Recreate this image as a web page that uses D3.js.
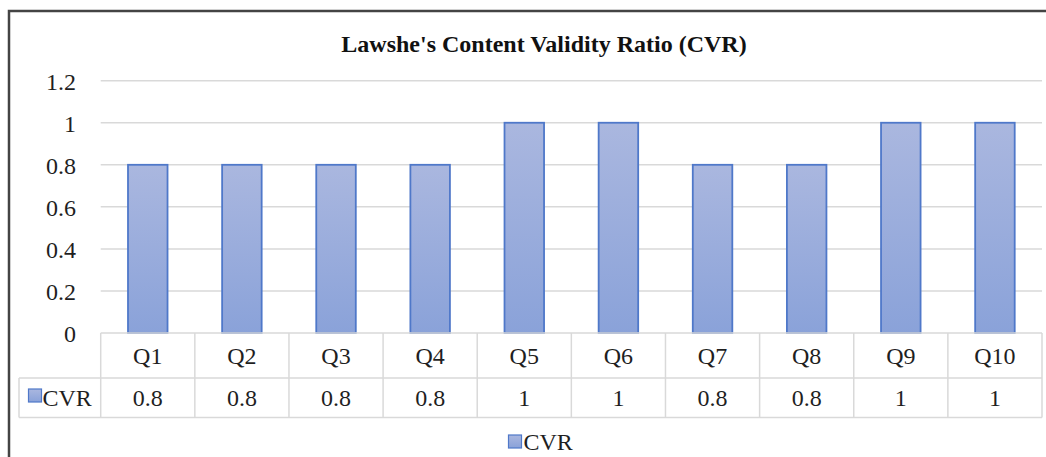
<!DOCTYPE html>
<html>
<head>
<meta charset="utf-8">
<script src="https://cdn.jsdelivr.net/npm/d3@7"></script>
<style>
  body { margin: 0; background: #fff; }
  svg { display: block; }
  text { font-family: "Liberation Serif", "Times New Roman", serif; }
</style>
</head>
<body>
<div id="chart"></div>
<script>
var categories = ["Q1", "Q2", "Q3", "Q4", "Q5", "Q6", "Q7", "Q8", "Q9", "Q10"];
var cvrValues = [0.8, 0.8, 0.8, 0.8, 1, 1, 0.8, 0.8, 1, 1];
var cvrLabels = ["0.8", "0.8", "0.8", "0.8", "1", "1", "0.8", "0.8", "1", "1"];
var yTicks = [0, 0.2, 0.4, 0.6, 0.8, 1, 1.2];
var seriesName = "CVR";
var chartTitle = "Lawshe's Content Validity Ratio (CVR)";

var width = 1046, height = 457;
var plot = {left: 100.7, right: 1042, top: 80.7, bottom: 333};
var rowH1 = 45, rowH2 = 39.5;
var keyLeft = 19;
var gridColor = "#d9d9d9";
var textColor = "#1f1f1f";
var labelSize = "24px";

var svg = d3.select("#chart")
    .append("svg")
    .attr("width", width)
    .attr("height", height);

// gradient for the bars
var defs = svg.append("defs");
var grad = defs.append("linearGradient")
    .attr("id", "barGrad")
    .attr("x1", 0).attr("y1", 0).attr("x2", 0).attr("y2", 1);
grad.append("stop").attr("offset", "0%").attr("stop-color", "#aab7df");
grad.append("stop").attr("offset", "100%").attr("stop-color", "#8aa2d9");

// outer frame (cut off at right and bottom)
svg.append("rect")
    .attr("x", 9)
    .attr("y", 11)
    .attr("width", width + 20)
    .attr("height", height + 20)
    .attr("fill", "none")
    .attr("stroke", "#444")
    .attr("stroke-width", 2.5);

// title
svg.append("text")
    .attr("x", 544)
    .attr("y", 52)
    .attr("text-anchor", "middle")
    .attr("font-size", "24px")
    .attr("font-weight", "bold")
    .attr("fill", "#111")
    .text(chartTitle);

// scales
var x = d3.scaleBand()
    .domain(categories)
    .range([plot.left, plot.right])
    .paddingInner(0.58)
    .paddingOuter(0.29);

var col = d3.scaleBand()
    .domain(categories)
    .range([plot.left, plot.right])
    .padding(0);

var y = d3.scaleLinear()
    .domain([0, 1.2])
    .range([plot.bottom, plot.top]);

// gridlines
svg.append("g")
    .selectAll("line")
    .data(yTicks.filter(d => d > 0))
    .enter()
    .append("line")
    .attr("x1", plot.left)
    .attr("x2", plot.right)
    .attr("y1", d => y(d))
    .attr("y2", d => y(d))
    .attr("stroke", gridColor)
    .attr("stroke-width", 1.5);

// y axis labels
var yAxis = d3.axisLeft(y)
    .tickValues(yTicks)
    .tickFormat(d => String(+d.toFixed(1)))
    .tickSize(0)
    .tickPadding(0);

var yg = svg.append("g")
    .attr("transform", "translate(76,0)")
    .call(yAxis);
yg.select(".domain").remove();
yg.selectAll("text")
    .attr("font-size", labelSize)
    .attr("font-family", "Liberation Serif, Times New Roman, serif")
    .attr("fill", textColor)
    .attr("dy", "0.35em");

// bars
svg.append("g")
    .selectAll("rect")
    .data(cvrValues)
    .enter()
    .append("rect")
    .attr("x", (d, i) => x(categories[i]))
    .attr("y", d => y(d))
    .attr("width", x.bandwidth())
    .attr("height", d => y(0) - y(d))
    .attr("fill", "url(#barGrad)")
    .attr("stroke", "#4f78c9")
    .attr("stroke-width", 1.8);

// data table
var table = svg.append("g")
    .attr("stroke", gridColor)
    .attr("stroke-width", 1.5);

var rowTop = plot.bottom;
var rowMid = rowTop + rowH1;
var rowBot = rowMid + rowH2;

table.append("line")
    .attr("x1", plot.left).attr("x2", plot.right)
    .attr("y1", rowTop).attr("y2", rowTop);
table.append("line")
    .attr("x1", keyLeft).attr("x2", plot.right)
    .attr("y1", rowMid).attr("y2", rowMid);
table.append("line")
    .attr("x1", keyLeft).attr("x2", plot.right)
    .attr("y1", rowBot).attr("y2", rowBot);
table.append("line")
    .attr("x1", keyLeft).attr("x2", keyLeft)
    .attr("y1", rowMid).attr("y2", rowBot);

table.selectAll(".vline")
    .data(categories)
    .enter()
    .append("line")
    .attr("class", "vline")
    .attr("x1", d => col(d))
    .attr("x2", d => col(d))
    .attr("y1", rowTop)
    .attr("y2", rowBot);
table.append("line")
    .attr("x1", plot.right).attr("x2", plot.right)
    .attr("y1", rowTop).attr("y2", rowBot);

// category labels row
svg.append("g")
    .selectAll("text")
    .data(categories)
    .enter()
    .append("text")
    .attr("x", d => col(d) + col.bandwidth() / 2)
    .attr("y", rowTop + rowH1 / 2)
    .attr("dy", "0.35em")
    .attr("text-anchor", "middle")
    .attr("font-size", labelSize)
    .attr("fill", textColor)
    .text(d => d);

// value row
svg.append("g")
    .selectAll("text")
    .data(cvrLabels)
    .enter()
    .append("text")
    .attr("x", (d, i) => col(categories[i]) + col.bandwidth() / 2)
    .attr("y", rowMid + rowH2 / 2)
    .attr("dy", "0.35em")
    .attr("text-anchor", "middle")
    .attr("font-size", labelSize)
    .attr("fill", textColor)
    .text(d => d);

// legend key inside table
svg.append("rect")
    .attr("x", 28.5)
    .attr("y", 389)
    .attr("width", 13)
    .attr("height", 13)
    .attr("fill", "url(#barGrad)")
    .attr("stroke", "#4f78c9")
    .attr("stroke-width", 1.2);
svg.append("text")
    .attr("x", 42.5)
    .attr("y", rowMid + rowH2 / 2)
    .attr("dy", "0.35em")
    .attr("font-size", labelSize)
    .attr("fill", textColor)
    .text(seriesName);

// bottom legend
svg.append("rect")
    .attr("x", 508.5)
    .attr("y", 435)
    .attr("width", 13)
    .attr("height", 13)
    .attr("fill", "url(#barGrad)")
    .attr("stroke", "#4f78c9")
    .attr("stroke-width", 1.2);
svg.append("text")
    .attr("x", 523.5)
    .attr("y", 441.5)
    .attr("dy", "0.35em")
    .attr("font-size", labelSize)
    .attr("fill", textColor)
    .text(seriesName);
</script>
</body>
</html>
